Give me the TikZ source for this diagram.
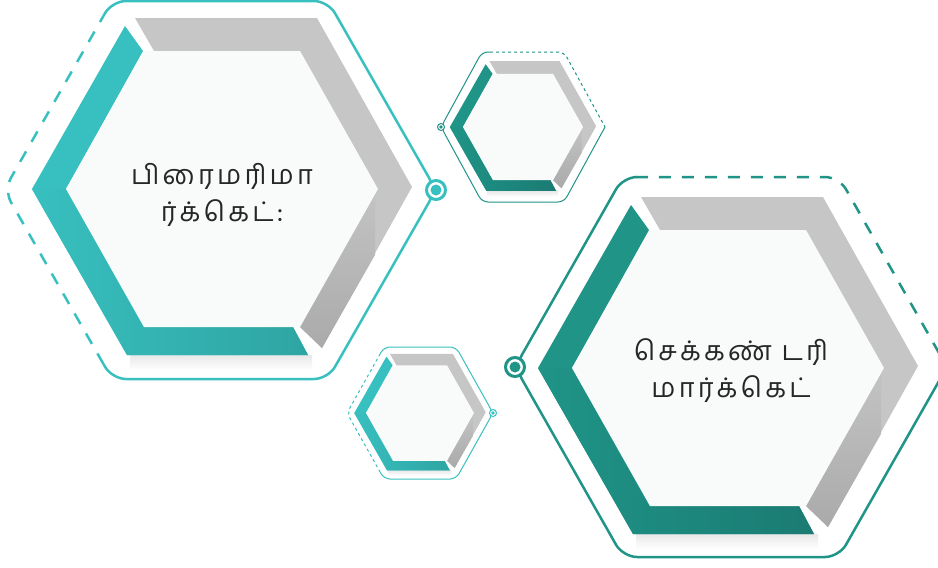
\documentclass[tikz,border=0pt]{standalone}
\usepackage{fontspec}
\newfontfamily\tamilfont[Script=Tamil,LetterSpace=12]{Hind Madurai}
\usetikzlibrary{calc}
\definecolor{tealA}{HTML}{38BFBF}
\definecolor{tealB}{HTML}{2EA5A3}
\definecolor{tealC}{HTML}{1F9487}
\definecolor{tealD}{HTML}{1B7B73}
\definecolor{bandgray}{HTML}{C6C6C6}
\definecolor{shadegray}{HTML}{AAAAAA}
\definecolor{facewhite}{HTML}{F9FBFB}
\definecolor{inkgray}{HTML}{262626}
\tikzset{
  rim/.style={line width=2.5pt, rounded corners=14pt},
  rimdash/.style={rim, dash pattern=on 12pt off 11pt},
  smallrim/.style={line width=1pt, rounded corners=6pt},
  smallrimdash/.style={smallrim, dash pattern=on 3pt off 3pt},
  ring/.style={circle, draw=#1, fill=white, line width=3pt, minimum size=19pt, inner sep=0pt,
    path picture={\fill[#1] (path picture bounding box.center) circle (5.5pt);}},
  smallring/.style={circle, draw=#1, fill=white, line width=1pt, minimum size=7pt, inner sep=0pt,
    path picture={\fill[#1] (path picture bounding box.center) circle (1.8pt);}},
  tamiltext/.style={font=\tamilfont\fontsize{27}{37}\selectfont, text=inkgray, align=center},
}
\begin{document}
\begin{tikzpicture}[x=1pt,y=-1pt]
\useasboundingbox (0,0) rectangle (938,568);
% hexagons: gray band, teal band, white face
\foreach \cx/\cy/\sc/\ca/\cb in {222/189/1/tealA/tealB, 728/368/1/tealC/tealD, 523/127/0.385/tealC/tealD, 420/413/0.346/tealA/tealB} {
  \begin{scope}[shift={(\cx,\cy)}, scale=\sc]
    \shade[top color=black!9, bottom color=white] (-92,166) rectangle (90,181);
    \fill[bandgray] (-87,-171) -- (95,-171) -- (190,-2) -- (100,159) -- (78,138) -- (0,0) -- (-68,-138) -- cycle;
    \shade[top color=shadegray!70, bottom color=shadegray] (156,0) -- (153,8) -- (153,66) -- (100,159) -- (78,138) -- cycle;
    \fill[\ca] (-97,-163) -- (-190,0) -- (-95,166) -- (86,166) -- (71,138) -- (-156,0) -- (-79,-138) -- cycle;
    \shade[left color=\ca, right color=\cb] (-190,0) -- (-95,166) -- (86,166) -- (71,138) -- (-79,138) -- (-156,0) -- cycle;
    \fill[facewhite] (-156,0) -- (-78,-138) -- (78,-138) -- (156,0) -- (78,138) -- (-78,138) -- cycle;
  \end{scope}
}
% outer rims
\coordinate (pL) at (4,190);
\coordinate (pTL) at (112,1);
\coordinate (pTR) at (328,1);
\coordinate (pR) at (436,190);
\coordinate (pBR) at (328,379);
\coordinate (pBL) at (112,379);
\draw[rim, tealA] ($(pTL)!0.08!(pL)$) -- (pTL) -- (pTR) -- (pR) -- (pBR) -- (pBL) -- ($(pBL)!0.08!(pL)$);
\draw[rimdash, tealA] ($(pBL)!0.08!(pL)$) -- (pL) -- ($(pTL)!0.08!(pL)$);
\node[ring=tealA] (ringP) at (pR) {};

\coordinate (qL) at (515,367);
\coordinate (qTL) at (623,177);
\coordinate (qTR) at (839,177);
\coordinate (qR) at (947,367);
\coordinate (qBR) at (839,557);
\coordinate (qBL) at (623,557);
\draw[rim, tealC] ($(qTL)!0.06!(qTR)$) -- (qTL) -- (qL) -- (qBL) -- (qBR) -- (qR);
\draw[rimdash, tealC] ($(qTL)!0.06!(qTR)$) -- (qTR) -- (qR);
\node[ring=tealC] (ringS) at (qL) {};

\coordinate (sL) at (441,127);
\coordinate (sTL) at (482,52);
\coordinate (sTR) at (564,52);
\coordinate (sR) at (605,127);
\coordinate (sBR) at (564,202);
\coordinate (sBL) at (482,202);
\draw[smallrim, tealC] ($(sTL)!0.1!(sTR)$) -- (sTL) -- (sL) -- (sBL) -- (sBR) -- (sR);
\draw[smallrimdash, tealC] ($(sTL)!0.1!(sTR)$) -- (sTR) -- (sR);
\node[smallring=tealC] (ringT) at (sL) {};

\coordinate (tL) at (347,413);
\coordinate (tTL) at (384,347);
\coordinate (tTR) at (456,347);
\coordinate (tR) at (493,413);
\coordinate (tBR) at (456,479);
\coordinate (tBL) at (384,479);
\draw[smallrim, tealA] ($(tTL)!0.1!(tL)$) -- (tTL) -- (tTR) -- (tR) -- (tBR) -- (tBL) -- ($(tBL)!0.1!(tL)$);
\draw[smallrimdash, tealA] ($(tBL)!0.1!(tL)$) -- (tL) -- ($(tTL)!0.1!(tL)$);
\node[smallring=tealA] (ringB) at (tR) {};

\node[tamiltext] (primary) at (222,195) {பிரைமரிமா\\ர்க்கெட்:};
\node[tamiltext] (secondary) at (731,371) {செக்கண் டரி\\மார்க்கெட்};
\end{tikzpicture}
\end{document}
